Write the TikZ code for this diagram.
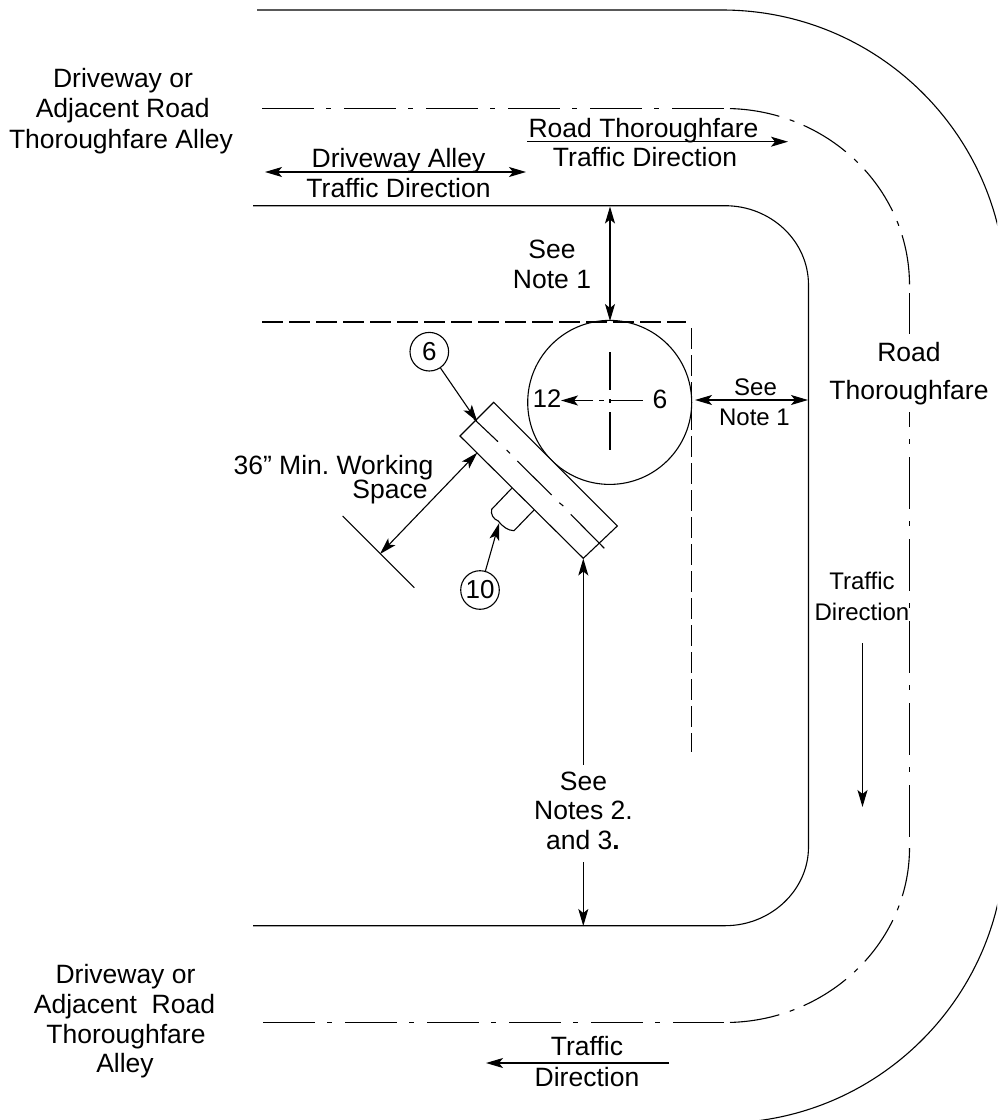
\documentclass[tikz,border=0pt]{standalone}
\usepackage{fontspec}
\setmainfont{Liberation Sans}
\usetikzlibrary{arrows.meta}
\tikzset{
  lw/.style={line width=1.1pt,black},
  head/.tip={Stealth[length=17pt,width=10pt,inset=4pt]},
  dimline/.style={lw,head-head},
  oneway/.style={lw,-head},
  dashdot/.style={lw,dash pattern=on 52pt off 12pt on 5pt off 13pt},
  dashdotarc/.style={lw,dash pattern=on 50pt off 11pt on 5pt off 10pt,dash phase=71pt},
  boxdash/.style={lw,dash pattern=on 20.5pt off 6.5pt},
  lab/.style={anchor=base,inner sep=0pt,font=\fontsize{26.5}{31}\selectfont},
  labs/.style={anchor=base,inner sep=0pt,font=\fontsize{24}{29}\selectfont},
  balloon/.style={circle,draw,line width=1.1pt,minimum size=38.6pt,inner sep=0pt,font=\fontsize{26}{31}\selectfont}
}
\frenchspacing
\begin{document}
\begin{tikzpicture}[x=1pt,y=-1pt]
\useasboundingbox (0,0) rectangle (997,1120);
\clip (0,0) rectangle (997,1120);
% road edges
\draw[lw] (257,10) -- (722,10) .. controls (879,10) and (1006,137) .. (1006,294);
\draw[lw] (253,205.7) -- (725,205.7) .. controls (771,205.7) and (808.5,241) .. (808.5,285)
  -- (808.5,847) .. controls (808.5,890) and (771,925.7) .. (725,925.7) -- (253,925.7);
\draw[lw] (1005,840) .. controls (1005,996) and (878,1123) .. (722,1123);
% road centre lines
\draw[dashdot] (262,108.5) -- (724,108.5);
\draw[dashdotarc] (725,108.5) .. controls (826,108.5) and (909.5,187) .. (909.5,285);
\draw[dashdot] (909.5,293) -- (909.5,848);
\draw[dashdotarc] (725,1022.5) .. controls (826,1022.5) and (909.5,944) .. (909.5,848);
\draw[dashdot] (263,1022.5) -- (724,1022.5);
% setback
\draw[boxdash] (262,322) -- (686,322);
\draw[boxdash] (691.5,328) -- (691.5,752);
% tank
\node[circle,draw,line width=1.1pt,minimum size=164pt,inner sep=0pt] (tank) at (609.7,402.4) {};
\coordinate (vtop) at (610,352);
\coordinate (vtopE) at (610,390);
\coordinate (vbot) at (610,450);
\coordinate (vbotE) at (610,412);
\draw[lw] (vtop) -- (vtopE) (610,399) -- (610,403) (vbotE) -- (vbot);
\coordinate (hleft) at (593,400.5);
\coordinate (h12) at (561,400.5);
\draw[oneway] (hleft) -- (h12);
\draw[lw] (599,400.5) -- (604,400.5) (610,400.5) -- (643,400.5);
\node[anchor=base,inner sep=0pt,font=\fontsize{25.5}{31}\selectfont] (twelve) at (547,407) {12};
\node[lab] (six) at (660,408) {6};
% generator
\coordinate (gA) at (493.7,402.3);
\coordinate (gB) at (460,436);
\coordinate (gC) at (583.3,558.3);
\coordinate (gD) at (617.3,526);
\draw[lw,fill=white] (gA) -- (gB) -- (gC) -- (gD) -- cycle;
\draw[lw] (474,419) -- (498,441.7) (506.7,450) -- (510,453.3) (517.3,461) -- (551.7,495)
  (559.3,502.7) -- (563.3,506) (570.7,514.3) -- (604.3,548.3);
% small box
\draw[lw] (511.7,488.3) -- (491.7,509.3) .. controls (490.5,514) and (493,519) .. (498.3,521)
  .. controls (503,527) and (508,530.5) .. (514,530.7) -- (534,510);
% working space
\coordinate (wallA) at (342.7,516);
\coordinate (wallB) at (414.3,587.7);
\draw[lw] (wallA) -- (wallB);
\coordinate (wsA) at (477.3,452.7);
\coordinate (wsB) at (380,554);
\draw[dimline] (wsB) -- (wsA);
\node[lab] (ws1) at (333.5,474) {36” Min. Working};
\node[lab] (ws2) at (390,498) {Space};
% balloons
\node[balloon] (b6) at (429.3,351.7) {6};
\node[balloon] (b10) at (480,590) {10};
\coordinate (b6t) at (477.3,421.7);
\coordinate (b10t) at (499,523.3);
\draw[oneway] (b6) -- (b6t);
\draw[oneway] (b10) -- (b10t);
% top texts
\node[lab] (l1) at (123,87) {Driveway or};
\node[lab] (l2) at (122.7,117) {Adjacent Road};
\node[lab] (l3) at (121,148) {Thoroughfare Alley};
\node[lab] (da) at (398.5,167) {Driveway Alley};
\node[lab] (dt) at (398.5,197) {Traffic Direction};
\coordinate (daL) at (265,172);
\coordinate (daR) at (526,172);
\draw[dimline] (daL) -- (daR);
\node[lab] (rt) at (643.5,137) {Road Thoroughfare};
\node[lab] (rd) at (645,166) {Traffic Direction};
\coordinate (rtL) at (527,141.7);
\coordinate (rtR) at (788,141.7);
\draw[oneway] (rtL) -- (rtR);
% notes
\coordinate (n1a) at (610,206.5);
\coordinate (n1b) at (610,321);
\draw[dimline] (n1a) -- (n1b);
\node[lab] (see1) at (552,258) {See};
\node[lab] (note1) at (552,288) {Note 1};
\coordinate (n2a) at (695,400);
\coordinate (n2b) at (808,400);
\draw[dimline] (n2a) -- (n2b);
\node[labs] (see2) at (755.5,395) {See};
\node[labs] (note2) at (754.5,425) {Note 1};
% road label
\node[anchor=center,inner ysep=0pt,inner xsep=0pt,fill=white,minimum width=158pt,minimum height=78pt] (roadbg) at (909,373) {};
\node[lab] (road) at (909,361) {Road};
\node[lab] (thr) at (909,399) {Thoroughfare};
% right traffic
\node[labs] (tr1) at (862,589) {Traffic};
\node[labs] (tr2) at (862,620) {Direction};
\coordinate (trA) at (862.5,643);
\coordinate (trB) at (862.5,807);
\draw[oneway] (trA) -- (trB);
% bottom clearance
\coordinate (bcA) at (583.3,558.5);
\coordinate (bcB) at (583.3,765);
\coordinate (bcC) at (583.3,862);
\coordinate (bcD) at (583.3,926);
\draw[lw,head-] (bcA) -- (bcB);
\draw[oneway] (bcC) -- (bcD);
\node[lab] (s3) at (583.5,790) {See};
\node[lab] (s4) at (583.5,819) {Notes 2.};
\node[lab] (s5) at (583,849) {and 3\textbf{.}};
% bottom texts
\node[lab] (b1) at (125.5,983) {Driveway or};
\node[lab] (b2) at (124.5,1013) {Adjacent\ \ Road};
\node[lab] (b3) at (126,1043) {Thoroughfare};
\node[lab] (b4) at (125,1072) {Alley};
\node[lab] (bt1) at (587,1055) {Traffic};
\node[lab] (bt2) at (587,1086) {Direction};
\coordinate (btR) at (669,1063);
\coordinate (btL) at (486,1063);
\draw[oneway] (btR) -- (btL);
\end{tikzpicture}
\end{document}
